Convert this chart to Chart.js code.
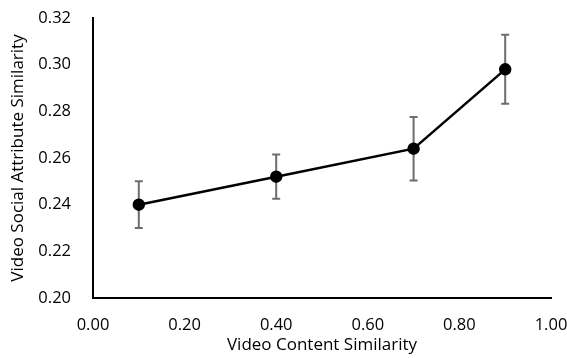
<!DOCTYPE html>
<html lang="en">
<head>
    <meta charset="UTF-8">
    <title>Video Content vs Social Attribute Similarity</title>
    <style>
        body {
            margin: 0;
            padding: 0;
            background-color: white;
        }
    </style>
</head>
<body>

<canvas id="simChart" width="567" height="358"></canvas>

<script src="https://cdn.jsdelivr.net/npm/chart.js"></script>
<script>
    // values
    const contentSim = [0.10, 0.40, 0.70, 0.90];
    const socialSim = [0.240, 0.252, 0.264, 0.298];
    const errorSize = [0.010, 0.0095, 0.0136, 0.0148];
    const xTicks = [0.00, 0.20, 0.40, 0.60, 0.80, 1.00];
    const yTicks = [0.20, 0.22, 0.24, 0.26, 0.28, 0.30, 0.32];

    const points = contentSim.map((x, i) => ({ x: x, y: socialSim[i] }));

    // draws the vertical error bars behind the line
    const errorBars = {
        id: 'errorBars',
        beforeDatasetsDraw(chart) {
            const ctx = chart.ctx;
            const xs = chart.scales.x;
            const ys = chart.scales.y;
            ctx.save();
            ctx.strokeStyle = '#6d6d6d';
            ctx.lineWidth = 2;
            contentSim.forEach((x, i) => {
                const px = xs.getPixelForValue(x);
                const top = ys.getPixelForValue(socialSim[i] + errorSize[i]);
                const bot = ys.getPixelForValue(socialSim[i] - errorSize[i]);
                ctx.beginPath();
                ctx.moveTo(px, top);
                ctx.lineTo(px, bot);
                ctx.moveTo(px - 4, top);
                ctx.lineTo(px + 4, top);
                ctx.moveTo(px - 4, bot);
                ctx.lineTo(px + 4, bot);
                ctx.stroke();
            });
            ctx.restore();
        }
    };

    const fontFam = "'Open Sans', 'Noto Sans', sans-serif";

    new Chart(document.getElementById('simChart'), {
        type: 'scatter',
        data: {
            datasets: [{
                data: points,
                showLine: true,
                borderColor: '#000000',
                borderWidth: 2.5,
                backgroundColor: '#000000',
                pointRadius: 5,
                pointHoverRadius: 5
            }]
        },
        plugins: [errorBars],
        options: {
            responsive: false,
            animation: false,
            devicePixelRatio: 1,
            layout: {
                padding: { top: 18, right: 16, left: 0, bottom: 0 }
            },
            plugins: {
                legend: { display: false },
                tooltip: { enabled: false }
            },
            scales: {
                x: {
                    type: 'linear',
                    min: xTicks[0],
                    max: xTicks[xTicks.length - 1],
                    afterBuildTicks: s => { s.ticks = xTicks.map(v => ({ value: v })); },
                    afterFit: s => {
                        s.height = 60;
                        s.paddingLeft = 0;
                        s.paddingRight = 0;
                    },
                    grid: { display: false, drawTicks: false },
                    border: { display: true, color: '#000000', width: 2 },
                    ticks: {
                        color: '#000000',
                        padding: 17,
                        maxRotation: 0,
                        font: { family: fontFam, size: 16.5 },
                        callback: v => v.toFixed(2)
                    },
                    title: {
                        display: true,
                        text: 'Video Content Similarity',
                        color: '#000000',
                        padding: { top: 0, bottom: 3 },
                        font: { family: fontFam, size: 17 }
                    }
                },
                y: {
                    type: 'linear',
                    min: yTicks[0],
                    max: yTicks[yTicks.length - 1],
                    afterBuildTicks: s => { s.ticks = yTicks.map(v => ({ value: v })); },
                    afterFit: s => {
                        s.width = 93;
                        s.paddingTop = 0;
                        s.paddingBottom = 0;
                    },
                    grid: { display: false, drawTicks: false },
                    border: { display: true, color: '#000000', width: 2 },
                    ticks: {
                        color: '#000000',
                        padding: 22,
                        font: { family: fontFam, size: 16.5 },
                        callback: v => v.toFixed(2)
                    },
                    title: {
                        display: true,
                        text: 'Video Social Attribute Similarity',
                        color: '#000000',
                        padding: { top: 8, bottom: 0 },
                        font: { family: fontFam, size: 17 }
                    }
                }
            }
        }
    });
</script>
</body>
</html>
